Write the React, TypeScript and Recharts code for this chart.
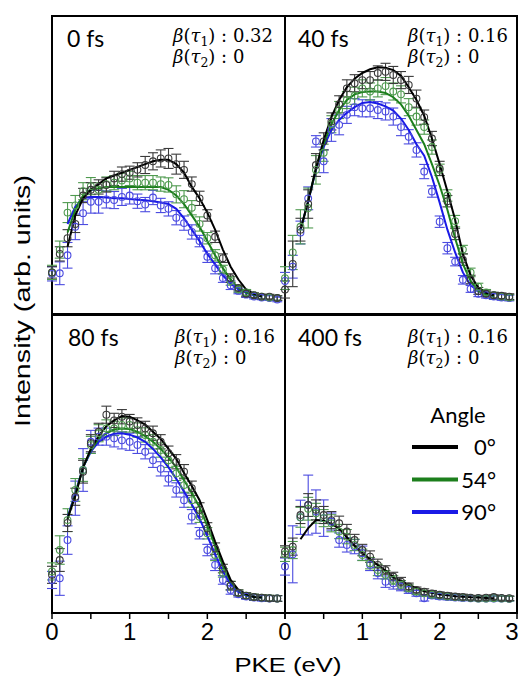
import React from 'react';
import { ComposedChart, Line, Scatter, ErrorBar, XAxis, YAxis, ReferenceArea, Legend } from 'recharts';

const pke = [0, 0.1, 0.2, 0.3, 0.4, 0.5, 0.6, 0.7, 0.8, 0.9, 1, 1.1, 1.2, 1.3, 1.4, 1.5, 1.6, 1.7, 1.8, 1.9, 2, 2.1, 2.2, 2.3, 2.4, 2.5, 2.6, 2.7, 2.8, 2.9];
// fitted curves run from 0.2 to 2.7 eV
const fitPke = pke.slice(2, 28);
const xTicks = [0, 0.5, 1, 1.5, 2, 2.5, 3];
const angles = ['0°', '54°', '90°'];

// 0 fs
const fs0Black = [10, 16.5, 22, 27, 37, 39, 40, 40.7, 43, 44.5, 45, 46, 47.7, 49, 50, 50, 48, 46, 41, 36, 30, 22.5, 15, 8, 4.5, 2.5, 2, 1.5, 1.5, 1];
const fs0BlackErr = [2, 2.5, 3, 3, 2.5, 2.5, 2.5, 2.5, 2.5, 2.5, 2.3, 2.5, 3, 3, 3, 3.5, 3.5, 3, 2.5, 2.5, 2, 2, 1.5, 1.5, 1, 1, 0.8, 0.8, 0.8, 0.8];
const fs0BlackFit = [19, 30, 36, 39, 41, 43, 44, 45, 46, 47, 48, 49, 49.5, 49.5, 48, 45, 40, 36, 31, 25, 18, 12, 7.5, 4, 2.5, 1.5];
const fs0Green = [10, 18, 31, 33.5, 38.5, 40.3, 39, 41, 41.5, 42.3, 43, 41.5, 41.5, 41.5, 41, 40.7, 37.4, 35.7, 32.7, 27, 22, 16, 11, 7, 4, 3, 2, 1.5, 1.2, 1];
const fs0GreenErr = [2.5, 3, 3.5, 3.5, 3, 3, 2.5, 2.5, 2.5, 2.5, 2.5, 2.5, 2.5, 2.5, 2.5, 2.5, 3, 3, 2.5, 2.5, 2, 2, 1.5, 1.5, 1, 1, 0.8, 0.8, 0.8, 0.8];
const fs0GreenFit = [24, 32, 37, 39, 39.5, 40, 40, 40, 40, 40, 40, 40, 40, 39, 37, 34, 30, 26, 21, 16, 11.5, 7.5, 4.5, 3, 2.2, 1.5];
const fs0Blue = [9.5, 9.7, 16, 26, 30.8, 34.8, 34.8, 35.6, 35.4, 36.5, 37, 35, 33.8, 36.3, 33.5, 32.3, 29.2, 27.3, 24.2, 21, 15.5, 11.5, 8, 5.5, 3.5, 2.2, 1.5, 1.2, 1, 0.5];
const fs0BlueErr = [2.5, 4, 4.5, 4.5, 4, 4, 4, 3, 3, 3, 3, 2.5, 2.5, 2.5, 2.5, 2.5, 2.5, 2.5, 2.5, 2, 2, 2, 1.5, 1.5, 1, 1, 0.8, 0.8, 0.8, 0.8];
const fs0BlueFit = [27, 33, 36, 36.5, 36.5, 36.3, 36, 36, 35.8, 35.5, 35.3, 35, 34.5, 34, 32.3, 29, 25, 21, 16.5, 12.8, 9, 6, 4, 2.8, 2, 1.5];

// 40 fs
const fs40Black = [4, 13, 25, 34, 47.7, 56, 63, 69, 74.6, 76.4, 77.5, 77.5, 80, 80.4, 79.3, 77.5, 75.8, 71, 64.5, 57, 46.5, 35, 23.5, 14.5, 7.5, 3.5, 2.5, 2, 1.8, 1.5];
const fs40BlackErr = [3, 8, 4, 5, 4, 3, 3, 3, 3, 3, 3, 3, 2.5, 3, 3, 3, 3, 3, 2.5, 2.5, 2.5, 2, 2, 2, 1.5, 1.2, 1, 1, 1, 1];
const fs40BlackFit = [25, 35, 46.5, 56.5, 64.5, 70.5, 75, 78, 80, 81.3, 82, 81.8, 81, 79, 75, 70.5, 65, 57, 48, 38.5, 28.5, 16.5, 9, 4.6, 2.8, 2];
const fs40Green = [8, 17, 26, 32.6, 46, 52, 62, 67, 70.5, 72, 74.6, 73.5, 74.6, 75.4, 73.5, 72.5, 68, 64.7, 61, 54, 46, 37, 28, 18, 10, 5, 3, 2, 1.5, 1.2];
const fs40GreenErr = [4, 6, 6, 7, 5, 3, 3, 3, 3, 3, 3, 3, 3, 3, 3, 3, 3, 3, 2.5, 2.5, 2, 2, 2, 1.5, 1.5, 1.2, 1, 1, 1, 1];
const fs40GreenFit = [25, 35, 46.5, 55, 62, 67, 70.5, 72.5, 73.3, 73.5, 73.5, 73, 71.5, 69, 65, 60, 55, 48, 40.5, 32, 22, 13, 7, 3.5, 2.3, 1.7];
const fs40Blue = [7, 12, 24, 36, 56, 49, 60, 61.8, 65.3, 68, 67.6, 67.6, 67, 66.5, 64.7, 61, 57.6, 53, 45.4, 38.4, 27.8, 18.5, 13.8, 7.4, 4.2, 2.5, 2, 1.5, 1.2, 1];
const fs40BlueErr = [3, 4, 4, 4, 2, 4, 4, 3.5, 3, 3, 3, 3, 3, 3, 3, 3, 2.5, 2.5, 2.5, 2, 2, 2, 1.5, 1.5, 1.2, 1, 1, 1, 1, 1];
const fs40BlueFit = [25, 35, 46, 54, 60, 63.5, 66, 68, 69.5, 69.8, 69.3, 68.3, 66.8, 64, 60, 55, 51, 43.5, 34.5, 25, 17, 10, 5.5, 3.5, 2.3, 1.7];

// 80 fs
const fs80Black = [8.8, 14, 27, 36.2, 45, 55, 59, 65, 63, 64.3, 62.6, 61.4, 60.2, 58.5, 55.5, 51.5, 48.5, 45, 39.2, 31.6, 25.1, 18, 11, 5, 2.5, 1.5, 1, 0.8, 0.6, 0.5];
const fs80BlackErr = [3, 4, 3, 3, 4, 3, 3, 3, 2.5, 2.5, 2.5, 2.5, 2.5, 2.5, 2.5, 2.5, 2.5, 2.5, 2.5, 2.5, 2, 2, 1.5, 1.5, 1, 1, 1, 1, 1, 1];
const fs80BlackFit = [28.5, 36.5, 46.5, 53, 57.5, 61, 63, 64.5, 64.3, 63, 61.5, 59, 56.5, 53, 49.5, 44.5, 40, 35, 28, 20.5, 13.5, 7, 3.5, 2, 1, 0.8];
const fs80Green = [10, 17.5, 28, 38.6, 45.6, 54.4, 58.5, 60.2, 60.2, 61.4, 61.4, 59.6, 57.9, 55.5, 52.6, 49, 44.4, 40.3, 35, 29.2, 23.4, 15.8, 9.5, 5, 2.5, 1.5, 1, 0.8, 0.6, 0.5];
const fs80GreenErr = [3, 5, 4, 4, 4, 3, 3, 3, 2.5, 2.5, 2.5, 2.5, 2.5, 2.5, 2.5, 2.5, 2.5, 2.5, 2.5, 2, 2, 2, 1.5, 1.5, 1, 1, 1, 1, 1, 1];
const fs80GreenFit = [28.5, 37, 46.5, 52.5, 56.5, 58.5, 59.8, 60.2, 60, 59, 57.5, 55.5, 53, 50, 46.5, 42, 37.5, 32.5, 26, 19, 12, 6.5, 3.2, 1.8, 1, 0.8];
const fs80Blue = [7, 7.6, 21, 35.7, 45.6, 55.5, 57.3, 57.3, 56.7, 56, 55.5, 54.4, 52, 49, 46, 42.5, 38.6, 35, 29.2, 23.4, 17.5, 12.3, 7, 3.5, 2, 1.2, 0.8, 0.6, 0.5, 0.5];
const fs80BlueErr = [3, 6, 5, 6, 7.5, 4, 3, 3, 3, 3, 3, 3, 2.5, 2.5, 2.5, 2.5, 2.5, 2.5, 2.5, 2, 2, 2, 1.5, 1.5, 1, 1, 1, 1, 1, 1];
const fs80BlueFit = [29, 37.5, 46.5, 52, 55.5, 57.3, 58.3, 58.5, 58, 57, 55.5, 53, 50, 46.5, 42.5, 38, 33.5, 28.5, 22.5, 16, 10, 5.5, 2.8, 1.5, 1, 0.8];

// 400 fs (the three fits overlap, only the 0° one shows)
const fs400Black = [17, 18.7, 29.8, 33.3, 31.6, 29.8, 28, 26.9, 24, 21, 17.5, 15.2, 12.3, 10.5, 8.2, 6.4, 4.7, 3.5, 2.9, 2.3, 1.8, 1.5, 1.2, 1, 0.8, 0.7, 0.8, 1, 0.7, 0.6];
const fs400BlackErr = [2, 3, 3, 4, 3.5, 3, 3, 2.5, 2.5, 2, 2, 2, 2, 1.5, 1.5, 1.5, 1.2, 1, 1, 1, 1, 1, 1, 1, 0.8, 0.8, 0.8, 0.8, 0.8, 0.8];
const fs400BlackFit = [21.3, 25.2, 28, 27.8, 26.7, 25, 22, 19, 16.5, 14.3, 12.2, 10.3, 8, 6.7, 5.2, 4.2, 3, 2.5, 1.9, 1.6, 1.3, 1.1, 0.9, 0.8, 0.7, 0.6];
const fs400Green = [16, 17.5, 29, 32, 30.4, 28.7, 26.9, 24, 22.2, 19.3, 15.8, 12.9, 10.5, 8.8, 7, 5.3, 4.1, 2.9, 2.3, 1.8, 1.5, 1.2, 1, 0.8, 0.7, 0.5, 0.5, 0.6, 0.5, 0.4];
const fs400GreenErr = [2.5, 3, 3.5, 4, 3.5, 3, 3, 2.5, 2.5, 2, 2, 2, 2, 1.5, 1.5, 1.5, 1.2, 1, 1, 1, 1, 1, 1, 1, 0.8, 0.8, 0.8, 0.8, 0.8, 0.8];
const fs400Blue = [11.7, 16, 29, 33.3, 31, 28.7, 27.5, 21, 19.3, 18.7, 16.4, 12.3, 9.4, 6.4, 5.8, 4.7, 3.5, 2.3, 0.6, 1.5, 1.2, 1, 0.8, 0.7, 0.6, 0.5, 0.5, 0.5, 0.5, 0.4];
const fs400BlueErr = [3, 10, 6, 10.5, 7.6, 6.4, 3, 2.5, 2.5, 2.5, 2.5, 2, 2, 2, 2, 1.5, 1.2, 1, 1, 1, 1, 1, 1, 1, 0.8, 0.8, 0.8, 0.8, 0.8, 0.8];

const lineColors = { black: '#000000', green: '#1c7f1c', blue: '#1a1ae6' };
const markColors = { black: '#3a3a3a', green: '#4f9a4f', blue: '#4b4be0' };
const SANS = "'Liberation Sans', Arial, sans-serif";
const LABEL = "Lato, 'Open Sans', sans-serif";
const MATH = "'DejaVu Serif', serif";

type Key = 'black' | 'green' | 'blue';
type Series = { key: Key; pts: number[]; err: number[]; fit?: number[] };

const toPoints = (vals: number[], errs: number[]) => vals.map((y, i) => ({ x: pke[i], y, e: errs[i] }));
const toFit = (vals: number[]) => vals.map((y, i) => ({ x: fitPke[i], y }));

const ring = (color: string) => (p: any) => (
  <circle cx={p.cx} cy={p.cy} r={3.4} fill="none" stroke={color} strokeWidth={1.1} />
);

const Y_MIN = -4.6;
const Y_MAX = 100;
const SIDE = 16; // room around the plot so tick labels at 0 and 3 are not cut

// integer ticks get a label; the last "3" is nudged left so it stays on the page
const xTick = (showThree?: boolean) => (p: any) => {
  const v = p.payload.value as number;
  const show = Number.isInteger(v) && (v < 3 || showThree);
  if (!show) return <g />;
  return (
    <text x={p.x + (v === 3 ? -5 : 0)} y={p.y} dy="0.72em" textAnchor="middle" fontSize={24} fill="#000" fontFamily={SANS}>
      {String(v)}
    </text>
  );
};

function legendContent() {
  const keys: Key[] = ['black', 'green', 'blue'];
  return (
    <svg width={100} height={130} style={{ display: 'block', overflow: 'visible' }}>
      <text x={46} y={26} textAnchor="middle" fontFamily={LABEL} fontSize={22} fill="#000">Angle</text>
      {angles.map((a, i) => {
        const y = 50 + i * 32.5;
        return (
          <g key={a}>
            <line x1={0} x2={46} y1={y} y2={y} stroke={lineColors[keys[i]]} strokeWidth={4} />
            <text x={84} y={y + 8} textAnchor="end" fontFamily={LABEL} fontSize={22} fill="#000">{a}</text>
          </g>
        );
      })}
    </svg>
  );
}

function Panel({ left, top, w, series, bottomAxis, showThree, legend }: {
  left: number; top: number; w: number; series: Series[];
  bottomAxis?: boolean; showThree?: boolean; legend?: boolean;
}) {
  const h = 298;
  const axisH = bottomAxis ? 44 : 0;
  return (
    <div style={{ position: 'absolute', left: left - SIDE, top: top - 2 }}>
      <ComposedChart width={w + 2 * SIDE} height={h + 4 + axisH} margin={{ top: 2, right: SIDE, bottom: 2, left: SIDE }}>
        <XAxis
          type="number"
          dataKey="x"
          domain={[0, 3]}
          ticks={xTicks}
          interval={0}
          hide={!bottomAxis}
          height={bottomAxis ? axisH : undefined}
          axisLine={false}
          tickSize={6}
          tickMargin={4}
          tickLine={{ stroke: '#000', strokeWidth: 1.5 }}
          tick={xTick(showThree)}
        />
        <YAxis
          type="number"
          dataKey="y"
          domain={[Y_MIN, Y_MAX]}
          allowDataOverflow
          mirror
          width={0}
          ticks={[0]}
          tickSize={5}
          axisLine={false}
          tickLine={{ stroke: '#000', strokeWidth: 1.5 }}
          tickFormatter={() => ''}
        />
        {series.map((s) => (
          <Scatter
            key={'p' + s.key}
            data={toPoints(s.pts, s.err)}
            dataKey="y"
            isAnimationActive={false}
            shape={ring(markColors[s.key])}
          >
            <ErrorBar dataKey="e" direction="y" width={5} stroke={markColors[s.key]} strokeWidth={1.1} isAnimationActive={false} />
          </Scatter>
        ))}
        {series.filter((s) => s.fit).map((s) => (
          <Line
            key={'f' + s.key}
            data={toFit(s.fit as number[])}
            dataKey="y"
            type="linear"
            stroke={lineColors[s.key]}
            strokeWidth={2}
            dot={false}
            activeDot={false}
            isAnimationActive={false}
          />
        ))}
        <ReferenceArea x1={0} x2={3} y1={Y_MIN} y2={Y_MAX} fill="none" stroke="#000" strokeWidth={2} ifOverflow="visible" />
        {legend && (
          <Legend
            layout="vertical"
            align="center"
            verticalAlign="middle"
            wrapperStyle={{ left: 412 - (left - SIDE), top: 397 - (top - 2), width: 100, height: 130 }}
            content={legendContent}
          />
        )}
      </ComposedChart>
    </div>
  );
}

function Beta({ x, y, sub, value }: { x: number; y: number; sub: string; value: string }) {
  return (
    <text x={x} y={y} fontFamily={MATH} fontSize={18} fill="#000">
      <tspan fontStyle="italic">β</tspan>
      <tspan>(</tspan>
      <tspan fontStyle="italic">τ</tspan>
      <tspan fontSize={12.5} dy={4}>{sub}</tspan>
      <tspan dy={-4}>{') : ' + value}</tspan>
    </text>
  );
}

export default function App() {
  return (
    <div style={{ position: 'absolute', left: 0, top: 0, width: 521, height: 678, background: '#fff', overflow: 'hidden' }}>
      <Panel left={52} top={16} w={233} series={[
        { key: 'blue', pts: fs0Blue, err: fs0BlueErr, fit: fs0BlueFit },
        { key: 'green', pts: fs0Green, err: fs0GreenErr, fit: fs0GreenFit },
        { key: 'black', pts: fs0Black, err: fs0BlackErr, fit: fs0BlackFit },
      ]} />
      <Panel left={285} top={16} w={232} series={[
        { key: 'blue', pts: fs40Blue, err: fs40BlueErr, fit: fs40BlueFit },
        { key: 'green', pts: fs40Green, err: fs40GreenErr, fit: fs40GreenFit },
        { key: 'black', pts: fs40Black, err: fs40BlackErr, fit: fs40BlackFit },
      ]} />
      <Panel left={52} top={315} w={233} bottomAxis series={[
        { key: 'blue', pts: fs80Blue, err: fs80BlueErr, fit: fs80BlueFit },
        { key: 'green', pts: fs80Green, err: fs80GreenErr, fit: fs80GreenFit },
        { key: 'black', pts: fs80Black, err: fs80BlackErr, fit: fs80BlackFit },
      ]} />
      <Panel left={285} top={315} w={232} bottomAxis showThree legend series={[
        { key: 'blue', pts: fs400Blue, err: fs400BlueErr },
        { key: 'green', pts: fs400Green, err: fs400GreenErr },
        { key: 'black', pts: fs400Black, err: fs400BlackErr, fit: fs400BlackFit },
      ]} />
      <svg width={521} height={678} style={{ position: 'absolute', left: 0, top: 0, pointerEvents: 'none' }}>
        <text transform="translate(30,301) rotate(-90)" textAnchor="middle" fontFamily={SANS} fontSize={22} textLength={252} lengthAdjust="spacingAndGlyphs" fill="#000">Intensity (arb. units)</text>
        <text x={288} y={672} textAnchor="middle" fontFamily={SANS} fontSize={21} textLength={107} lengthAdjust="spacingAndGlyphs" fill="#000">PKE (eV)</text>
        <text x={67} y={47} fontFamily={LABEL} fontSize={23} fill="#000">0 fs</text>
        <text x={298} y={47} fontFamily={LABEL} fontSize={23} fill="#000">40 fs</text>
        <text x={68} y={346} fontFamily={LABEL} fontSize={23} fill="#000">80 fs</text>
        <text x={298} y={346} fontFamily={LABEL} fontSize={23} fill="#000">400 fs</text>
        <Beta x={173} y={42} sub="1" value="0.32" />
        <Beta x={173} y={63} sub="2" value="0" />
        <Beta x={408} y={42} sub="1" value="0.16" />
        <Beta x={408} y={63} sub="2" value="0" />
        <Beta x={175} y={343} sub="1" value="0.16" />
        <Beta x={175} y={364} sub="2" value="0" />
        <Beta x={408} y={343} sub="1" value="0.16" />
        <Beta x={408} y={364} sub="2" value="0" />
      </svg>
    </div>
  );
}
